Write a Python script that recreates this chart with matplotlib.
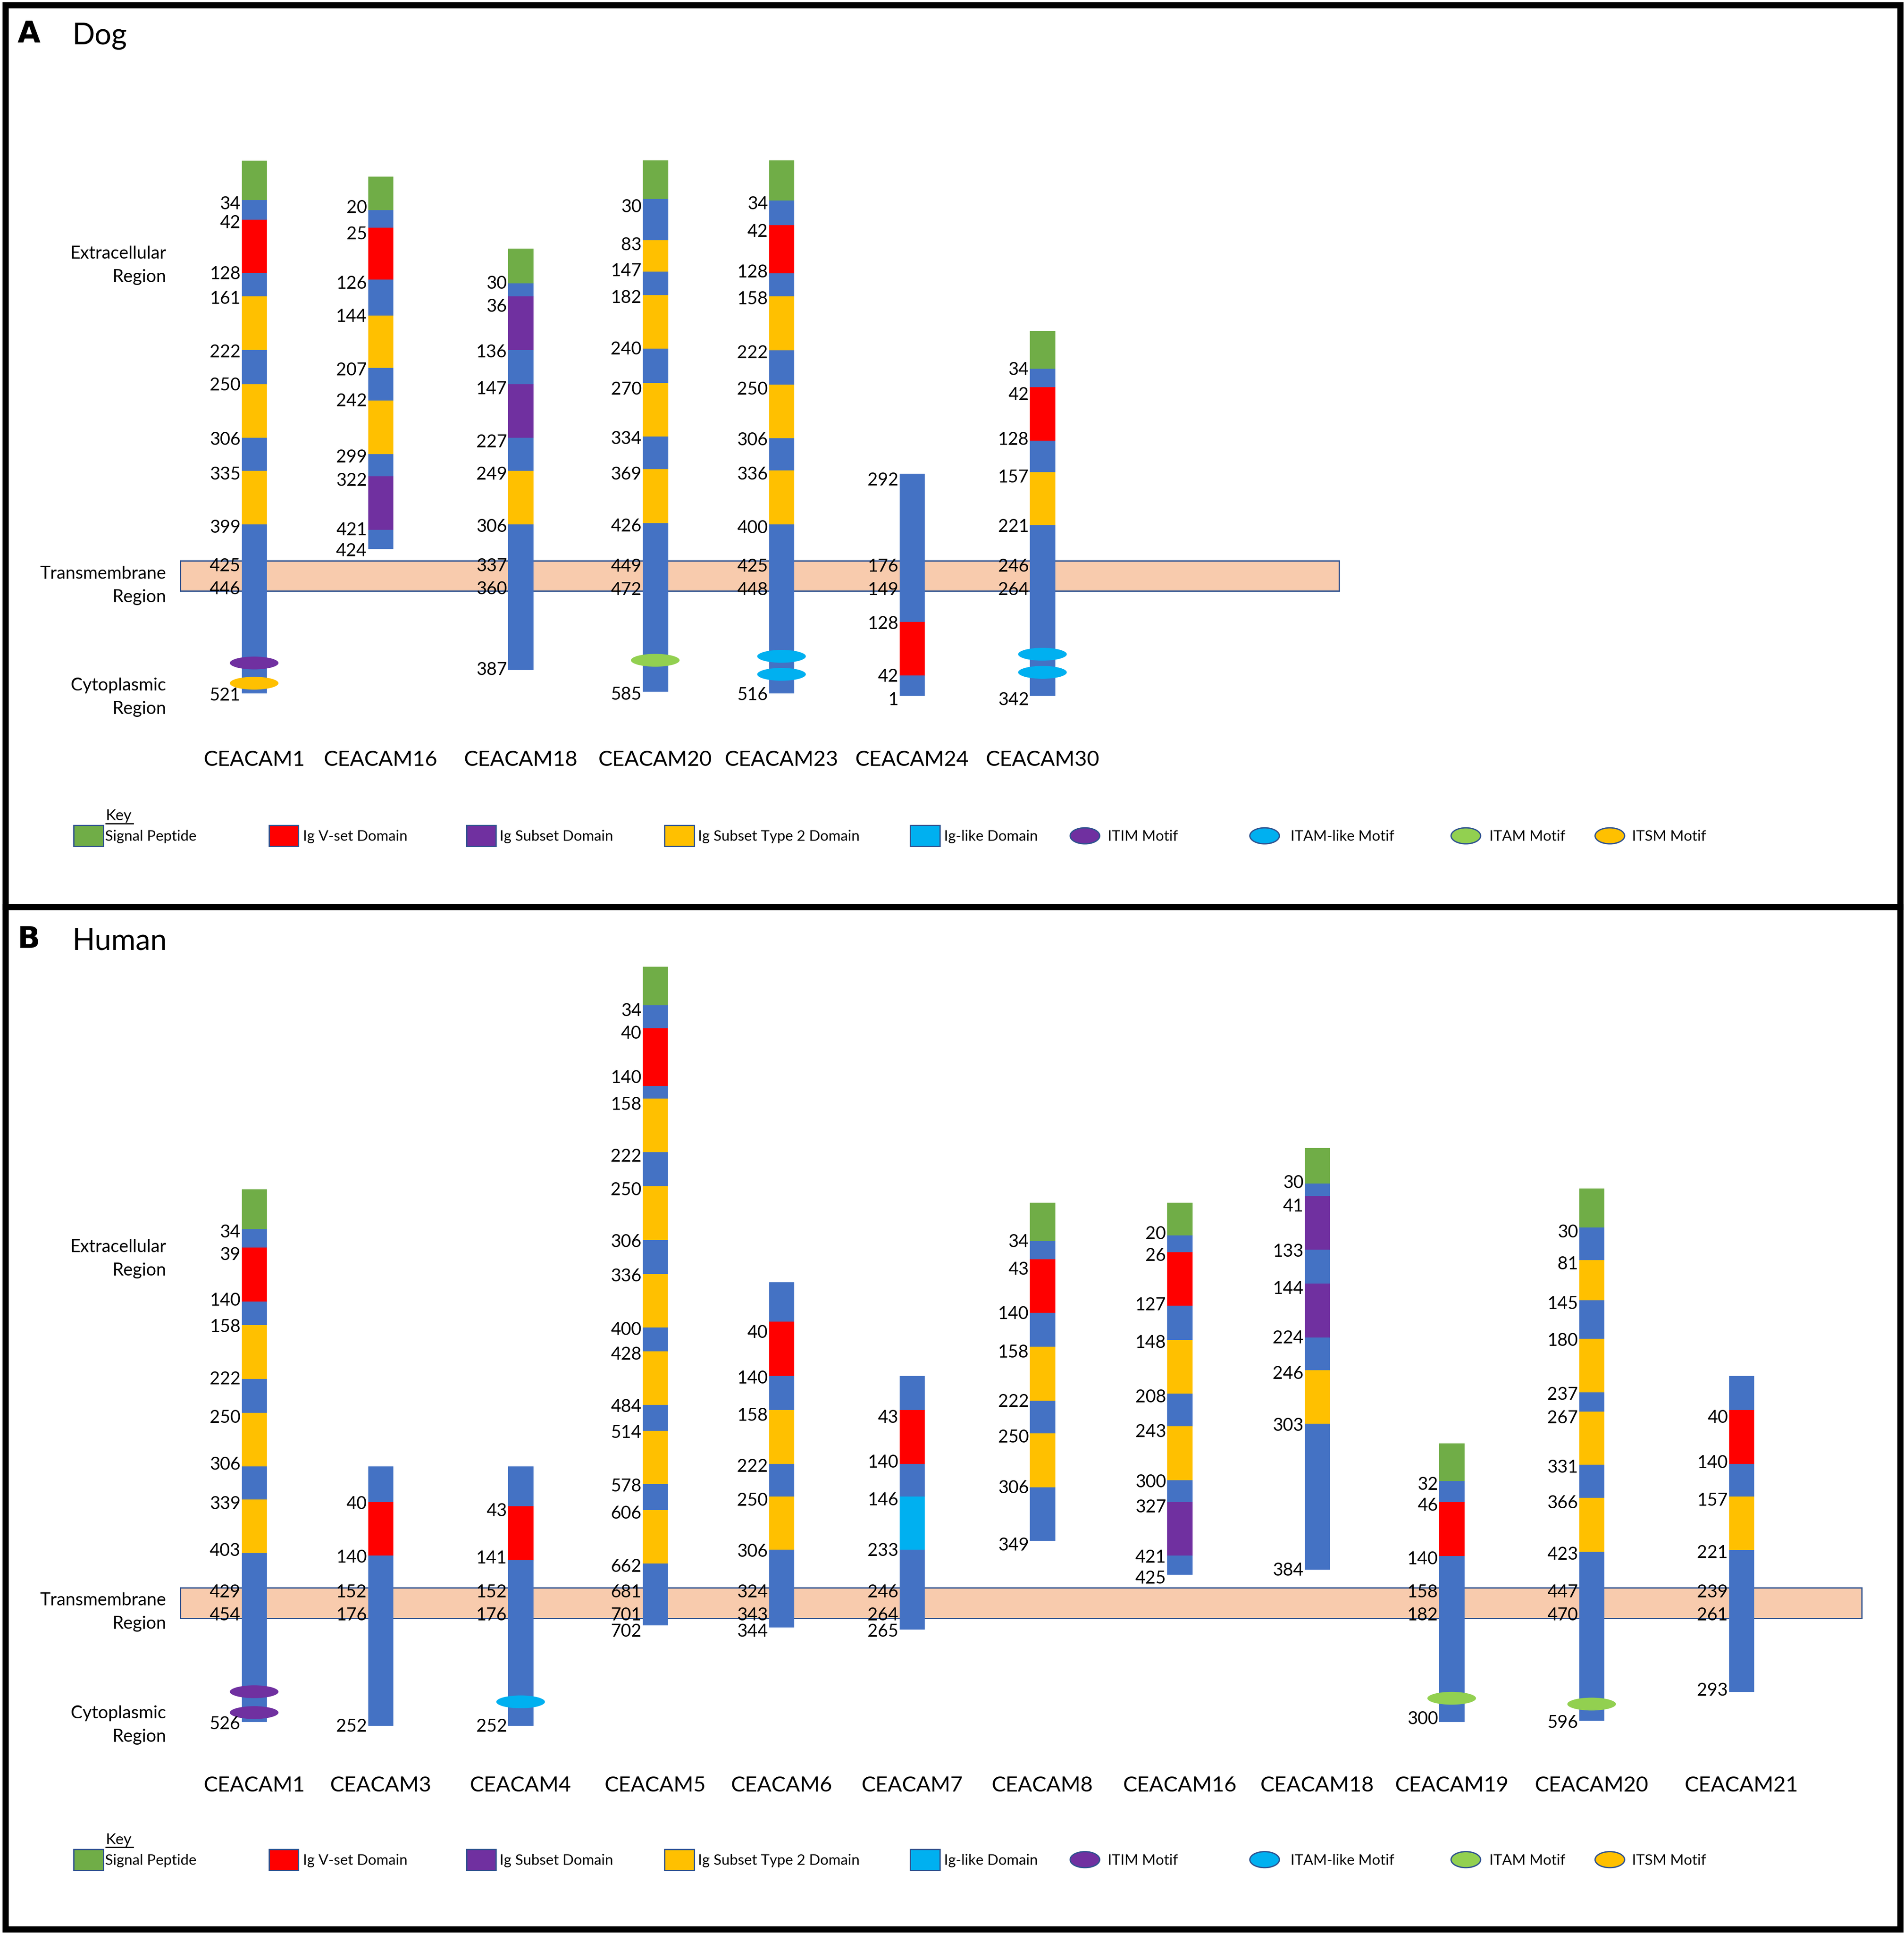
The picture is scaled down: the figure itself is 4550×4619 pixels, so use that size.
import matplotlib
matplotlib.use("Agg")
import matplotlib.pyplot as plt
from matplotlib.patches import Ellipse, Rectangle

# ---------------- DATA ----------------
DOG_PROTEINS = ["CEACAM1", "CEACAM16", "CEACAM18", "CEACAM20", "CEACAM23", "CEACAM24", "CEACAM30"]
DOG_DOMAINS = [
    ["S", "L", "V", "L", "Y", "L", "Y", "L", "Y", "L"],
    ["S", "L", "V", "L", "Y", "L", "Y", "L", "P", "L"],
    ["S", "L", "P", "L", "P", "L", "Y", "L"],
    ["S", "L", "Y", "L", "Y", "L", "Y", "L", "Y", "L"],
    ["S", "L", "V", "L", "Y", "L", "Y", "L", "Y", "L"],
    ["L", "V", "L"],
    ["S", "L", "V", "L", "Y", "L"],
]
DOG_RESIDUES = [
    [34, 42, 128, 161, 222, 250, 306, 335, 399, 425, 446, 521],
    [20, 25, 126, 144, 207, 242, 299, 322, 421, 424],
    [30, 36, 136, 147, 227, 249, 306, 337, 360, 387],
    [30, 83, 147, 182, 240, 270, 334, 369, 426, 449, 472, 585],
    [34, 42, 128, 158, 222, 250, 306, 336, 400, 425, 448, 516],
    [292, 176, 149, 128, 42, 1],
    [34, 42, 128, 157, 221, 246, 264, 342],
]
DOG_MOTIFS = [["ITIM", "ITSM"], [], [], ["ITAM"], ["ITAM-like", "ITAM-like"], [], ["ITAM-like", "ITAM-like"]]

HUMAN_PROTEINS = ["CEACAM1", "CEACAM3", "CEACAM4", "CEACAM5", "CEACAM6", "CEACAM7",
                  "CEACAM8", "CEACAM16", "CEACAM18", "CEACAM19", "CEACAM20", "CEACAM21"]
HUMAN_DOMAINS = [
    ["S", "L", "V", "L", "Y", "L", "Y", "L", "Y", "L"],
    ["L", "V", "L"],
    ["L", "V", "L"],
    ["S", "L", "V", "L", "Y", "L", "Y", "L", "Y", "L", "Y", "L", "Y", "L", "Y", "L"],
    ["L", "V", "L", "Y", "L", "Y", "L"],
    ["L", "V", "L", "G", "L"],
    ["S", "L", "V", "L", "Y", "L", "Y", "L"],
    ["S", "L", "V", "L", "Y", "L", "Y", "L", "P", "L"],
    ["S", "L", "P", "L", "P", "L", "Y", "L"],
    ["S", "L", "V", "L"],
    ["S", "L", "Y", "L", "Y", "L", "Y", "L", "Y", "L"],
    ["L", "V", "L", "Y", "L"],
]
HUMAN_RESIDUES = [
    [34, 39, 140, 158, 222, 250, 306, 339, 403, 429, 454, 526],
    [40, 140, 152, 176, 252],
    [43, 141, 152, 176, 252],
    [34, 40, 140, 158, 222, 250, 306, 336, 400, 428, 484, 514, 578, 606, 662, 681, 701, 702],
    [40, 140, 158, 222, 250, 306, 324, 343, 344],
    [43, 140, 146, 233, 246, 264, 265],
    [34, 43, 140, 158, 222, 250, 306, 349],
    [20, 26, 127, 148, 208, 243, 300, 327, 421, 425],
    [30, 41, 133, 144, 224, 246, 303, 384],
    [32, 46, 140, 158, 182, 300],
    [30, 81, 145, 180, 237, 267, 331, 366, 423, 447, 470, 596],
    [40, 140, 157, 221, 239, 261, 293],
]
HUMAN_MOTIFS = [["ITIM", "ITIM"], [], ["ITAM-like"], [], [], [], [], [], [], ["ITAM"], ["ITAM"], []]

DOMAIN_KEY = ["Signal Peptide", "Ig V-set Domain", "Ig Subset Domain", "Ig Subset Type 2 Domain", "Ig-like Domain"]
DOMAIN_KEY_CODES = ["S", "V", "P", "Y", "G"]
MOTIF_KEY = ["ITIM Motif", "ITAM-like Motif", "ITAM Motif", "ITSM Motif"]
MOTIF_KEY_CODES = ["ITIM", "ITAM-like", "ITAM", "ITSM"]
REGIONS = [["Extracellular", "Region"], ["Transmembrane", "Region"], ["Cytoplasmic", "Region"]]

# ---------------- SCHEMATIC LAYOUT (drawing coordinates) ----------------
DOG_X = [206.5, 309.2, 423.0, 532.4, 635.0, 741.1, 847.0]
DOG_EDGES = [
    [130.2, 162.1, 178.1, 221.4, 240.4, 283.7, 311.8, 355.0, 381.9, 425.2, 562.0],
    [143.4, 170.3, 184.7, 226.8, 256.0, 298.5, 325.0, 368.3, 386.2, 429.8, 445.0],
    [201.5, 229.9, 240.4, 283.7, 311.8, 355.0, 381.9, 425.2, 543.2],
    [130.1, 161.3, 194.7, 220.3, 239.2, 282.7, 310.6, 354.1, 380.7, 424.2, 560.9],
    [130.1, 162.6, 182.7, 221.6, 240.5, 284.0, 311.9, 355.4, 381.7, 425.2, 562.3],
    [384.3, 504.5, 548.0, 564.2],
    [268.4, 299.2, 313.9, 357.4, 383.0, 426.2, 564.2],
]
DOG_LABEL_Y = [
    [164.5, 180.0, 221.4, 241.2, 284.9, 311.4, 355.8, 383.9, 427.1, 458.3, 477.0, 563.1],
    [167.6, 189.0, 229.0, 256.0, 299.3, 324.6, 370.0, 389.0, 429.0, 446.0],
    [229.1, 247.8, 284.9, 314.5, 357.7, 383.9, 426.3, 458.3, 477.0, 542.5],
    [166.8, 198.0, 219.0, 240.5, 282.4, 314.8, 355.1, 384.0, 425.9, 458.4, 477.5, 562.3],
    [164.5, 186.9, 220.0, 241.5, 285.3, 314.8, 356.0, 384.0, 427.2, 458.4, 477.5, 562.9],
    [388.5, 458.4, 477.5, 505.1, 548.0, 566.8],
    [298.9, 319.4, 355.8, 386.3, 426.2, 458.4, 477.5, 566.8],
]
DOG_MOTIF_Y = [[537.8, 554.2], [], [], [535.6], [532.4, 547.0], [], [530.7, 545.4]]

HUMAN_X = [206.5, 309.2, 423.0, 532.3, 635.0, 741.1, 847.0, 958.5, 1070.2, 1179.5, 1293.2, 1415.0]
HUMAN_EDGES = [
    [964.9, 996.9, 1012.1, 1055.8, 1074.9, 1118.6, 1145.9, 1189.6, 1216.4, 1259.7, 1396.6],
    [1189.6, 1218.2, 1261.9, 1399.6],
    [1189.6, 1221.6, 1265.4, 1399.6],
    [784.0, 815.3, 834.0, 880.8, 891.1, 934.5, 962.1, 1005.9, 1033.5, 1076.9, 1096.1,
     1139.5, 1160.5, 1203.9, 1224.9, 1268.3, 1318.3],
    [1040.1, 1072.1, 1116.0, 1143.5, 1187.3, 1213.8, 1257.2, 1319.8],
    [1116.0, 1143.5, 1187.3, 1213.8, 1257.2, 1321.6],
    [975.7, 1006.6, 1021.4, 1064.8, 1092.4, 1136.2, 1162.7, 1206.5, 1249.5],
    [975.5, 1002.2, 1015.7, 1059.1, 1086.9, 1130.3, 1157.0, 1200.6, 1218.4, 1261.7, 1277.2],
    [931.0, 960.0, 970.1, 1013.5, 1041.3, 1085.0, 1111.4, 1155.0, 1273.0],
    [1170.8, 1201.5, 1218.5, 1262.1, 1396.5],
    [964.2, 995.6, 1022.3, 1054.6, 1086.0, 1129.3, 1145.0, 1188.3, 1215.0, 1258.7, 1395.5],
    [1116.2, 1143.8, 1187.4, 1213.8, 1257.4, 1372.0],
]
HUMAN_LABEL_Y = [
    [998.7, 1016.9, 1054.1, 1075.3, 1117.7, 1148.9, 1187.0, 1219.0, 1257.1, 1290.5, 1309.1, 1397.4],
    [1219.0, 1262.3, 1290.5, 1309.1, 1399.6],
    [1224.7, 1263.2, 1290.5, 1309.1, 1399.6],
    [819.0, 837.4, 873.4, 895.1, 937.1, 964.3, 1006.6, 1034.2, 1077.7, 1097.9, 1140.2,
     1161.2, 1204.6, 1226.7, 1269.8, 1290.7, 1309.1, 1322.4],
    [1080.2, 1117.0, 1147.2, 1188.8, 1216.4, 1257.6, 1290.7, 1309.1, 1322.4],
    [1149.0, 1185.5, 1216.0, 1256.9, 1290.7, 1309.1, 1322.4],
    [1006.6, 1028.7, 1064.8, 1096.1, 1136.2, 1164.9, 1206.1, 1252.4],
    [999.9, 1017.7, 1057.7, 1088.1, 1132.5, 1160.7, 1201.2, 1221.7, 1262.5, 1279.4],
    [958.6, 977.5, 1014.3, 1044.4, 1084.4, 1113.4, 1155.6, 1273.0],
    [1203.4, 1220.4, 1263.7, 1290.7, 1309.2, 1393.3],
    [998.8, 1024.5, 1056.8, 1086.6, 1130.3, 1149.4, 1189.3, 1218.2, 1259.9, 1290.7, 1309.2, 1396.5],
    [1149.1, 1185.8, 1216.3, 1258.7, 1290.7, 1309.2, 1370.4],
]
HUMAN_MOTIF_Y = [[1372.3, 1389.2], [], [1380.5], [], [], [], [], [], [], [1377.6], [1382.3], []]

# ---------------- STYLE ----------------
COLORS = {"S": "#70AD47", "L": "#4472C4", "V": "#FF0000", "P": "#7030A0",
          "Y": "#FFC000", "G": "#00B0F0"}
MOTIF_COLORS = {"ITIM": "#7030A0", "ITAM-like": "#00B0F0", "ITAM": "#92D050", "ITSM": "#FFC000"}
EDGE_BLUE = "#2F528F"
FONT = ["Lato", "DejaVu Sans"]
plt.rcParams["font.family"] = FONT

W, H = 1547.0, 1568.0
PT = 4550.0 / W * 72.0 / 100.0   # points per drawing unit
BAR_W = 20.2
NUM_FS = 30.5
NUM_CAP = NUM_FS / PT * 0.7165
NAME_FS = 36.5
NAME_CAP = NAME_FS / PT * 0.7165
KEY_FS = 25.2

fig = plt.figure(figsize=(45.5, 46.19), dpi=100)
ax = fig.add_axes([0, 0, 1, 1])
ax.set_xlim(0, W)
ax.set_ylim(H, 0)
ax.axis("off")


def draw_panel(letter, title, title_y, names, xs, domains, edges, residues, label_y,
               motifs, motif_y, name_y, tm, region_y, key_y):
    # transmembrane band
    tx0, tx1, ty0, ty1 = tm
    ax.add_patch(Rectangle((tx0, ty0), tx1 - tx0, ty1 - ty0, facecolor="#F8CBAD",
                           edgecolor=EDGE_BLUE, linewidth=2.2, zorder=1))
    # proteins
    for i, name in enumerate(names):
        x = xs[i]
        e = edges[i]
        tops = e[:-1]
        heights = [e[k + 1] - e[k] for k in range(len(e) - 1)]
        cols = [COLORS[d] for d in domains[i]]
        ax.bar([x] * len(tops), heights, bottom=tops, width=BAR_W, color=cols,
               edgecolor=cols, linewidth=0.6, zorder=2)
        for val, yy in zip(residues[i], label_y[i]):
            ax.text(x - BAR_W / 2 - 1.0, yy + NUM_CAP / 2, str(val), ha="right",
                    va="baseline", fontsize=NUM_FS, color="black", zorder=4)
        for m, yy in zip(motifs[i], motif_y[i]):
            ax.add_patch(Ellipse((x, yy), 39.5, 10.4, facecolor=MOTIF_COLORS[m],
                                 edgecolor="none", zorder=3))
        ax.text(x, name_y + NAME_CAP / 2, name, ha="center", va="baseline",
                fontsize=NAME_FS, color="black")
    # region labels
    for (l1, l2), yb in zip(REGIONS, region_y):
        ax.text(135.0, yb, l1, ha="right", va="baseline", fontsize=NUM_FS)
        ax.text(135.0, yb + 19.0, l2, ha="right", va="baseline", fontsize=NUM_FS)
    # panel letter and title
    ax.text(14.0, title_y, letter, ha="left", va="baseline", fontsize=51,
            fontweight="bold", family="DejaVu Sans")
    ax.text(58.5, title_y + 1.5, title, ha="left", va="baseline", fontsize=51)
    # key
    ax.text(86.0, key_y - 12.5, "Key", ha="left", va="baseline", fontsize=KEY_FS + 1)
    ax.plot([86.0, 108.0], [key_y - 10.0, key_y - 10.0], color="black", linewidth=2.2)
    rect_x = [60.0, 218.5, 379.0, 540.0, 739.5]
    text_x = [85.5, 246.0, 406.0, 567.0, 767.0]
    for lab, code, rx, txx in zip(DOMAIN_KEY, DOMAIN_KEY_CODES, rect_x, text_x):
        ax.add_patch(Rectangle((rx, key_y - 8.5), 24.0, 17.0, facecolor=COLORS[code],
                               edgecolor=EDGE_BLUE, linewidth=2.2))
        ax.text(txx, key_y + 4.0, lab, ha="left", va="baseline", fontsize=KEY_FS)
    ell_x = [881.5, 1027.5, 1191.0, 1308.0]
    etext_x = [900.0, 1048.5, 1210.0, 1326.0]
    for lab, code, ex, txx in zip(MOTIF_KEY, MOTIF_KEY_CODES, ell_x, etext_x):
        ax.add_patch(Ellipse((ex, key_y), 24.0, 13.0, facecolor=MOTIF_COLORS[code],
                             edgecolor=EDGE_BLUE, linewidth=2.2))
        ax.text(txx, key_y + 4.0, lab, ha="left", va="baseline", fontsize=KEY_FS)


draw_panel("A", "Dog", 34.5, DOG_PROTEINS, DOG_X, DOG_DOMAINS, DOG_EDGES, DOG_RESIDUES,
           DOG_LABEL_Y, DOG_MOTIFS, DOG_MOTIF_Y, 615.0, (146.6, 1088.0, 454.8, 479.3),
           [209.7, 469.6, 560.0], 678.0)
draw_panel("B", "Human", 769.0, HUMAN_PROTEINS, HUMAN_X, HUMAN_DOMAINS, HUMAN_EDGES,
           HUMAN_RESIDUES, HUMAN_LABEL_Y, HUMAN_MOTIFS, HUMAN_MOTIF_Y, 1447.2,
           (146.6, 1512.7, 1287.9, 1312.6), [1015.6, 1302.2, 1394.0], 1508.5)

# panel frames
for y0, y1 in [(4.0, 735.5), (735.5, 1565.0)]:
    ax.add_patch(Rectangle((4.5, y0), 1544.0 - 4.5, y1 - y0, fill=False, edgecolor="black",
                           linewidth=5.0 * PT, joinstyle="miter", zorder=5))

fig.savefig("out.png", dpi=100, facecolor="white")
